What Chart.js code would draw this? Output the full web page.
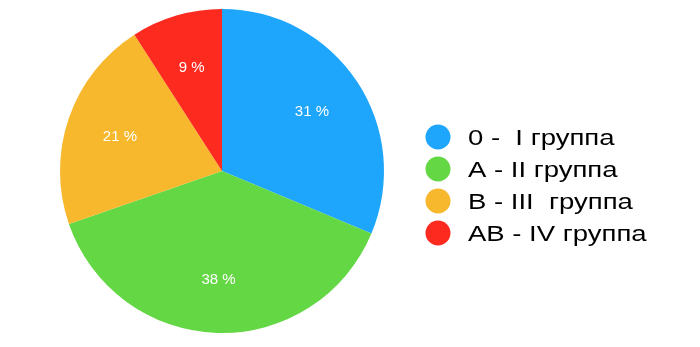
<!DOCTYPE html>
<html>
<head>
<meta charset="utf-8">
<script src="https://cdn.jsdelivr.net/npm/chart.js@4"></script>
<style>
  html, body { margin: 0; padding: 0; background: #fff; }
  #wrap { width: 700px; height: 347px; }
</style>
</head>
<body>
<div id="wrap"><canvas id="chartPie"></canvas></div>
<script>
const groupLabels = ["0 -  I группа", "A - II группа", "B - III  группа", "AB - IV группа"];
const groupShares = [31, 38, 21, 9];
const groupColors = ["#1ea5fc", "#63d744", "#f7b82d", "#fc2a1f"];

// percent labels inside slices
const sliceLabels = {
    id: "sliceLabels",
    afterDatasetsDraw(chart) {
        const ctx = chart.ctx;
        const meta = chart.getDatasetMeta(0);
        ctx.save();
        ctx.fillStyle = "#fff";
        ctx.font = "15px 'Liberation Sans', Arial, sans-serif";
        ctx.textAlign = "center";
        ctx.textBaseline = "middle";
        meta.data.forEach((arc, i) => {
            const p = arc.getProps(["x", "y", "startAngle", "endAngle", "outerRadius"], true);
            const mid = (p.startAngle + p.endAngle) / 2;
            const r = p.outerRadius * 0.667;
            ctx.fillText(groupShares[i] + " %", p.x + Math.cos(mid) * r, p.y + Math.sin(mid) * r + 1);
        });
        ctx.restore();
    },
};

// legend on the right, circles + text (text is drawn a bit stretched, like the original)
const sideLegend = {
    id: "sideLegend",
    afterDraw(chart) {
        const ctx = chart.ctx;
        chart.data.labels.forEach((label, i) => {
            const y = 137 + i * 32;
            ctx.save();
            ctx.fillStyle = groupColors[i];
            ctx.beginPath();
            ctx.arc(438, y, 12.5, 0, Math.PI * 2);
            ctx.fill();
            ctx.fillStyle = "#000";
            ctx.font = "22px 'Liberation Sans', Arial, sans-serif";
            ctx.textBaseline = "middle";
            ctx.translate(468, y + 2);
            ctx.scale(1.25, 1);
            ctx.fillText(label, 0, 0);
            ctx.restore();
        });
    },
};

new Chart(document.getElementById("chartPie"), {
    type: "pie",
    data: {
        labels: groupLabels,
        datasets: [
            {
                data: groupShares,
                backgroundColor: groupColors,
                borderWidth: 0,
            },
        ],
    },
    options: {
        responsive: true,
        maintainAspectRatio: false,
        animation: false,
        layout: { padding: { top: 9, bottom: 14, left: 60, right: 316 } },
        plugins: {
            legend: { display: false },
            tooltip: { enabled: false },
        },
    },
    plugins: [sliceLabels, sideLegend],
});
</script>
</body>
</html>
